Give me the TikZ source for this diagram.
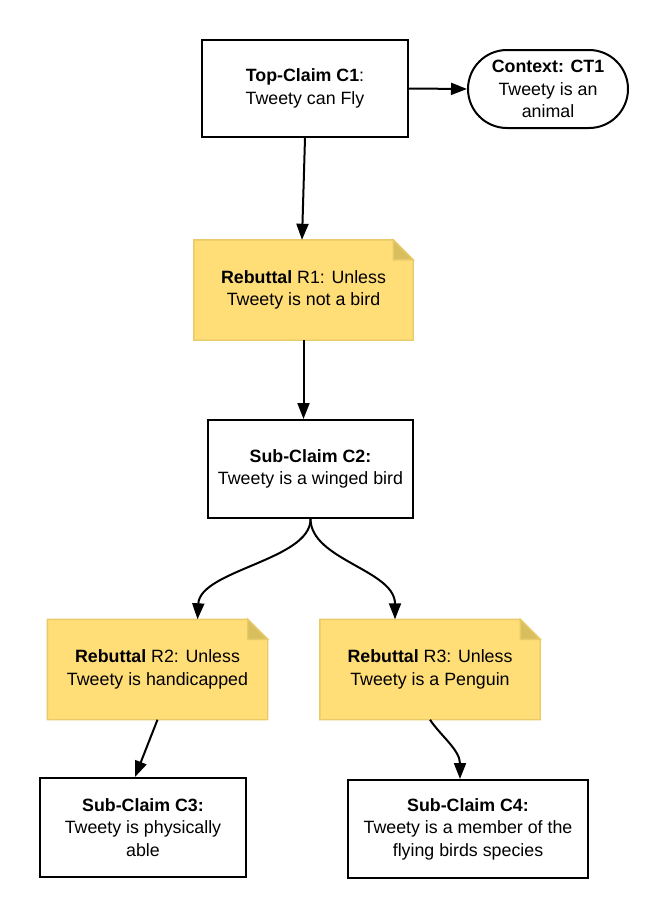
\documentclass[tikz,border=0pt]{standalone}
\usepackage{fontspec}
\setmainfont{Liberation Sans}
\usetikzlibrary{arrows.meta,calc}
\definecolor{notefill}{RGB}{255,221,119}
\definecolor{noteedge}{RGB}{232,202,105}
\definecolor{notefold}{RGB}{216,190,92}
\tikzset{
  x=1pt,y=-1pt,
  txt/.style={font=\fontsize{17.8}{22.5}\selectfont, align=center, inner sep=0pt},
  claimbox/.style={txt, draw=black, line width=2pt, minimum width=#1, minimum height=98pt},
  ctxbox/.style={txt, draw=black, line width=2pt, rounded corners=39pt, minimum width=160pt, minimum height=78pt},
  notebox/.style={txt, minimum width=#1, minimum height=100pt},
  conn/.style={line width=2pt, -{Triangle[length=16pt,width=12pt]}},
}
\newcommand{\notedraw}[1]{%
  \fill[notefill, draw=noteedge, line width=1.4pt]
    (#1.south west) -- (#1.north west) -- ($(#1.north east)+(-20,0)$) -- ($(#1.north east)+(0,20)$) -- (#1.south east) -- cycle;
  \fill[notefold, draw=noteedge, line width=1.4pt]
    ($(#1.north east)+(-20,0)$) -- ($(#1.north east)+(-20,20)$) -- ($(#1.north east)+(0,20)$) -- cycle;
}
\begin{document}
\begin{tikzpicture}
\useasboundingbox (0,0) rectangle (668,918);
\node[claimbox=206pt, minimum height=97pt] (c1) at (305,88.5) {\textbf{Top-Claim C1}:\\Tweety can Fly};
\node[ctxbox] (ct1) at (548,89) {\textbf{Context: CT1}\\Tweety is an\\animal};
\node[notebox=219pt] (r1) at (303.5,290) {};
\notedraw{r1}
\node[txt] at (r1) {\textbf{Rebuttal} R1: Unless\\Tweety is not a bird};
\node[claimbox=205pt] (c2) at (310.5,469) {\textbf{Sub-Claim C2:}\\Tweety is a winged bird};
\node[notebox=220pt] (r2) at (157.5,669.5) {};
\notedraw{r2}
\node[txt] at (r2) {\textbf{Rebuttal} R2: Unless\\Tweety is handicapped};
\node[notebox=220pt] (r3) at (430,669.5) {};
\notedraw{r3}
\node[txt] at (r3) {\textbf{Rebuttal} R3: Unless\\Tweety is a Penguin};
\node[claimbox=206pt, minimum height=99pt] (c3) at (143,827.5) {\textbf{Sub-Claim C3:}\\Tweety is physically\\able};
\node[claimbox=240pt] (c4) at (468,829) {\textbf{Sub-Claim C4:}\\Tweety is a member of the\\flying birds species};

\draw[conn] (c1.east) -- (ct1.west);
\draw[conn] (c1.south) -- ($(r1.north)+(-1.5,0)$);
\draw[conn] (r1.south) -- (c2.north -| r1.south);
\draw[conn] (c2.south) .. controls (311,560) and (200,570) .. ($(r2.north)+(40,0)$);
\draw[conn] (c2.south) .. controls (311,560) and (395,570) .. ($(r3.north)+(-35,0)$);
\draw[conn] (r2.south) -- ($(c3.north)+(-8,0)$);
\draw[conn] (r3.south) .. controls (440,735) and (460,750) .. ($(c4.north)+(-8,0)$);
\end{tikzpicture}
\end{document}
